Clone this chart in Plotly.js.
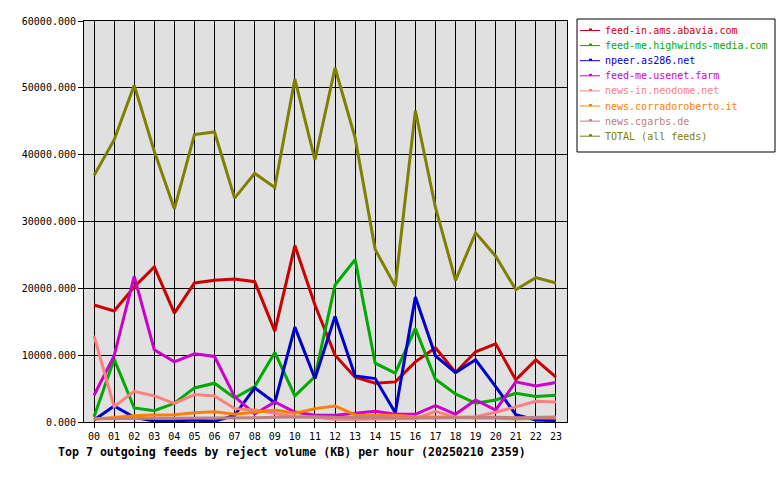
<!DOCTYPE html>
<html>
<head>
<meta charset="utf-8">
<script src="https://cdn.plot.ly/plotly-3.0.1.min.js"></script>
<style>
  html, body { margin: 0; padding: 0; background: #ffffff; }
  #chart { width: 780px; height: 480px; }
</style>
</head>
<body>
<div id="chart"></div>
<script>
// Hour buckets on the x axis
const hours = ["00","01","02","03","04","05","06","07","08","09","10","11",
               "12","13","14","15","16","17","18","19","20","21","22","23"];

// Reject volume (KB) per hour, one array per feed
const abavia = [17500, 16600, 20200, 23200, 16300, 20800, 21200, 21400, 21000, 13600, 26400, 17500,
                10000, 6700, 5800, 6000, 9000, 11100, 7400, 10500, 11700, 6300, 9300, 6700];
const highwinds = [800, 9400, 2100, 1700, 2800, 5100, 5800, 3600, 5300, 10400, 3900, 6800,
                   20500, 24300, 8800, 7300, 14000, 6400, 4200, 2800, 3300, 4300, 3800, 4000];
const npeer = [300, 2400, 700, 150, 150, 300, 100, 1000, 5100, 2900, 14200, 6500,
               15800, 6900, 6500, 1400, 18700, 9900, 7400, 9300, 5300, 1100, 300, 200];
const usenetFarm = [4000, 9900, 21800, 10800, 9000, 10200, 9800, 3800, 1200, 3000, 1500, 1000,
                    1000, 1300, 1600, 1150, 1150, 2450, 1150, 3300, 1800, 6000, 5400, 5900];
const neodome = [12900, 2300, 4600, 3900, 2800, 4100, 3900, 2000, 1800, 1300, 800, 700,
                 400, 400, 500, 500, 500, 1600, 700, 800, 1450, 2300, 3100, 3000];
const corradoroberto = [400, 650, 950, 1050, 1100, 1400, 1550, 1150, 1500, 1800, 1300, 2000,
                        2400, 1050, 1000, 1000, 800, 800, 700, 600, 600, 450, 600, 600];
const cgarbs = [500, 550, 550, 550, 550, 550, 550, 600, 650, 700, 750, 800,
                700, 650, 650, 600, 600, 600, 650, 650, 700, 650, 700, 750];
const total = [36900, 42200, 50400, 40500, 31900, 43000, 43400, 33500, 37200, 35100, 51300, 39200,
               53000, 42500, 25800, 20300, 46600, 32100, 21200, 28300, 24800, 19800, 21600, 20800];

const feedNames = ["feed-in.ams.abavia.com", "feed-me.highwinds-media.com", "npeer.as286.net",
                   "feed-me.usenet.farm", "news-in.neodome.net", "news.corradoroberto.it",
                   "news.cgarbs.de", "TOTAL (all feeds)"];
const feedValues = [abavia, highwinds, npeer, usenetFarm, neodome, corradoroberto, cgarbs, total];
const feedColors = ["#cc0000", "#00aa00", "#0000cc", "#cc00cc", "#ff8080", "#ff8000", "#c08080", "#808000"];

const yTicks = [0, 10000, 20000, 30000, 40000, 50000, 60000];
const yTickText = ["0.000", "10000.000", "20000.000", "30000.000", "40000.000", "50000.000", "60000.000"];

const chartTitle = "Top 7 outgoing feeds by reject volume (KB) per hour (20250210 2359)";

// Plot frame in pixels
const W = 780, H = 480;
const M = { l: 84, r: 213, t: 21, b: 58 };
const PW = W - M.l - M.r, PH = H - M.t - M.b;
const px = x => (x - M.l) / PW;          // pixel x -> paper x
const py = y => (H - M.b - y) / PH;      // pixel y -> paper y

const mono = "DejaVu Sans Mono, Liberation Mono, monospace";

const traces = feedNames.map((name, i) => ({
  type: "scatter",
  mode: "lines",
  name: name,
  x: hours,
  y: feedValues[i],
  line: { color: feedColors[i], width: 3 },
  showlegend: false,
  hoverinfo: "x+y+name"
}));

// Hand-drawn legend box at the right of the plot
const shapes = [{
  type: "rect", xref: "paper", yref: "paper",
  x0: px(577), x1: px(775), y0: py(19), y1: py(152),
  line: { color: "#000000", width: 1 }, fillcolor: "#ffffff", layer: "below"
}];
const annotations = [];
feedNames.forEach((name, i) => {
  const rowY = 30.5 + 15.1 * i;
  shapes.push({
    type: "line", xref: "paper", yref: "paper",
    x0: px(580), x1: px(600), y0: py(rowY), y1: py(rowY),
    line: { color: feedColors[i], width: 1 }
  });
  shapes.push({
    type: "rect", xref: "paper", yref: "paper",
    x0: px(589), x1: px(592), y0: py(rowY), y1: py(rowY - 2),
    line: { color: feedColors[i], width: 0 }, fillcolor: feedColors[i]
  });
  annotations.push({
    xref: "paper", yref: "paper", x: px(603), y: py(rowY),
    xanchor: "left", yanchor: "middle", showarrow: false,
    text: name, font: { family: mono, size: 10, color: feedColors[i] }
  });
});

const layout = {
  width: W, height: H,
  margin: M,
  paper_bgcolor: "#ffffff",
  plot_bgcolor: "#e0e0e0",
  showlegend: false,
  title: {
    text: "<b>" + chartTitle + "</b>",
    xref: "container", yref: "container",
    x: 58 / W, xanchor: "left",
    y: 1 - 452 / H, yanchor: "middle",
    font: { family: mono, size: 11.6, color: "#000000" }
  },
  xaxis: {
    type: "category",
    range: [-0.5, 23.55],
    tickmode: "array", tickvals: hours, ticktext: hours,
    ticks: "outside", ticklen: 5, tickcolor: "#000000", tickwidth: 1,
    showgrid: true, gridcolor: "#000000", gridwidth: 1,
    showline: true, linecolor: "#000000", linewidth: 1, mirror: true,
    zeroline: false,
    tickfont: { family: mono, size: 10, color: "#000000" }
  },
  yaxis: {
    range: [0, 60000],
    tickmode: "array", tickvals: yTicks, ticktext: yTickText,
    ticks: "outside", ticklen: 5, tickcolor: "#000000", tickwidth: 1,
    showgrid: true, gridcolor: "#000000", gridwidth: 1,
    showline: true, linecolor: "#000000", linewidth: 1, mirror: true,
    zeroline: false,
    tickfont: { family: mono, size: 10, color: "#000000" }
  },
  shapes: shapes,
  annotations: annotations
};

Plotly.newPlot("chart", traces, layout, { displayModeBar: false, staticPlot: true });
</script>
</body>
</html>
